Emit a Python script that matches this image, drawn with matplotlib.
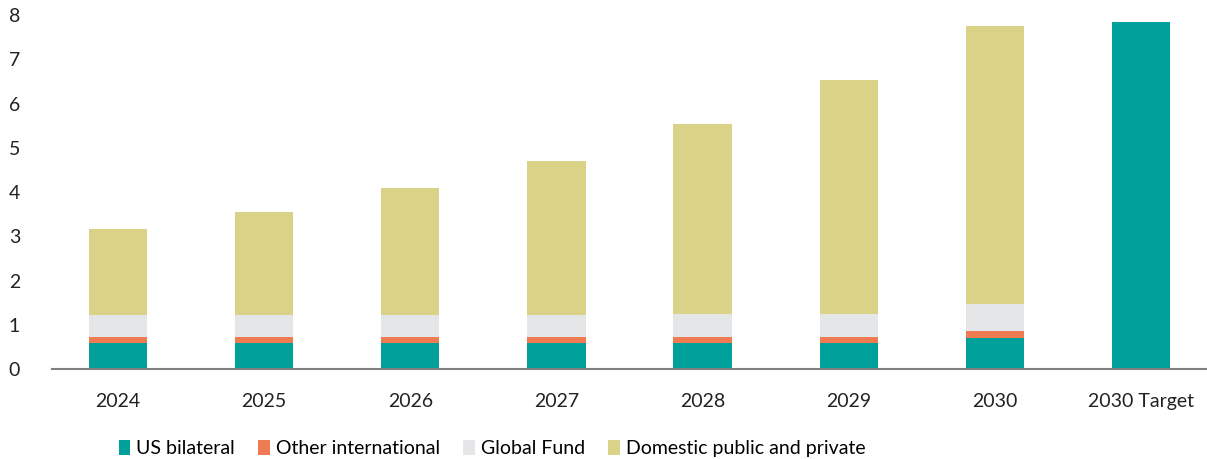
import numpy as np
import matplotlib.pyplot as plt

plt.rcParams['font.family'] = ['Lato', 'DejaVu Sans']

years = ['2024', '2025', '2026', '2027', '2028', '2029', '2030', '2030 Target']
us_bilateral = [0.59, 0.59, 0.59, 0.59, 0.59, 0.59, 0.70, 7.84]
other_intl = [0.13, 0.13, 0.13, 0.13, 0.13, 0.13, 0.16, 0]
global_fund = [0.50, 0.50, 0.50, 0.50, 0.52, 0.52, 0.61, 0]
domestic = [1.94, 2.33, 2.87, 3.48, 4.30, 5.29, 6.28, 0]

colors = ['#00A19A', '#EE7B51', '#E5E6E7', '#D9D287']
labels = ['US bilateral', 'Other international', 'Global Fund', 'Domestic public and private']

fig = plt.figure(figsize=(12.07, 4.59), dpi=100)
ax = fig.add_axes([0.0431, 0.196, 0.9569, 0.771])

x = np.arange(len(years))
bottom = np.zeros(len(years))
for vals, c, lab in zip([us_bilateral, other_intl, global_fund, domestic], colors, labels):
    ax.bar(x, vals, width=0.4, bottom=bottom, color=c, label=lab)
    bottom += np.array(vals)

ax.set_xlim(-0.45, len(years) - 0.55)
ax.set_ylim(0, 8)
ax.set_yticks(range(0, 9))
ax.set_xticks(x)
ax.set_xticklabels(years)
ax.tick_params(axis='both', length=0, labelsize=14, colors='#222222')
ax.tick_params(axis='x', pad=17)
ax.tick_params(axis='y', pad=23)
for s in ['top', 'right', 'left']:
    ax.spines[s].set_visible(False)
ax.spines['bottom'].set_color('#808080')
ax.spines['bottom'].set_linewidth(1.5)

leg = ax.legend(loc='center', bbox_to_anchor=(0.381, -0.225), ncol=4, frameon=False,
                fontsize=14, handlelength=0.6, handleheight=0.8, handletextpad=0.3,
                columnspacing=1.2)

fig.savefig('out.png', dpi=100)
